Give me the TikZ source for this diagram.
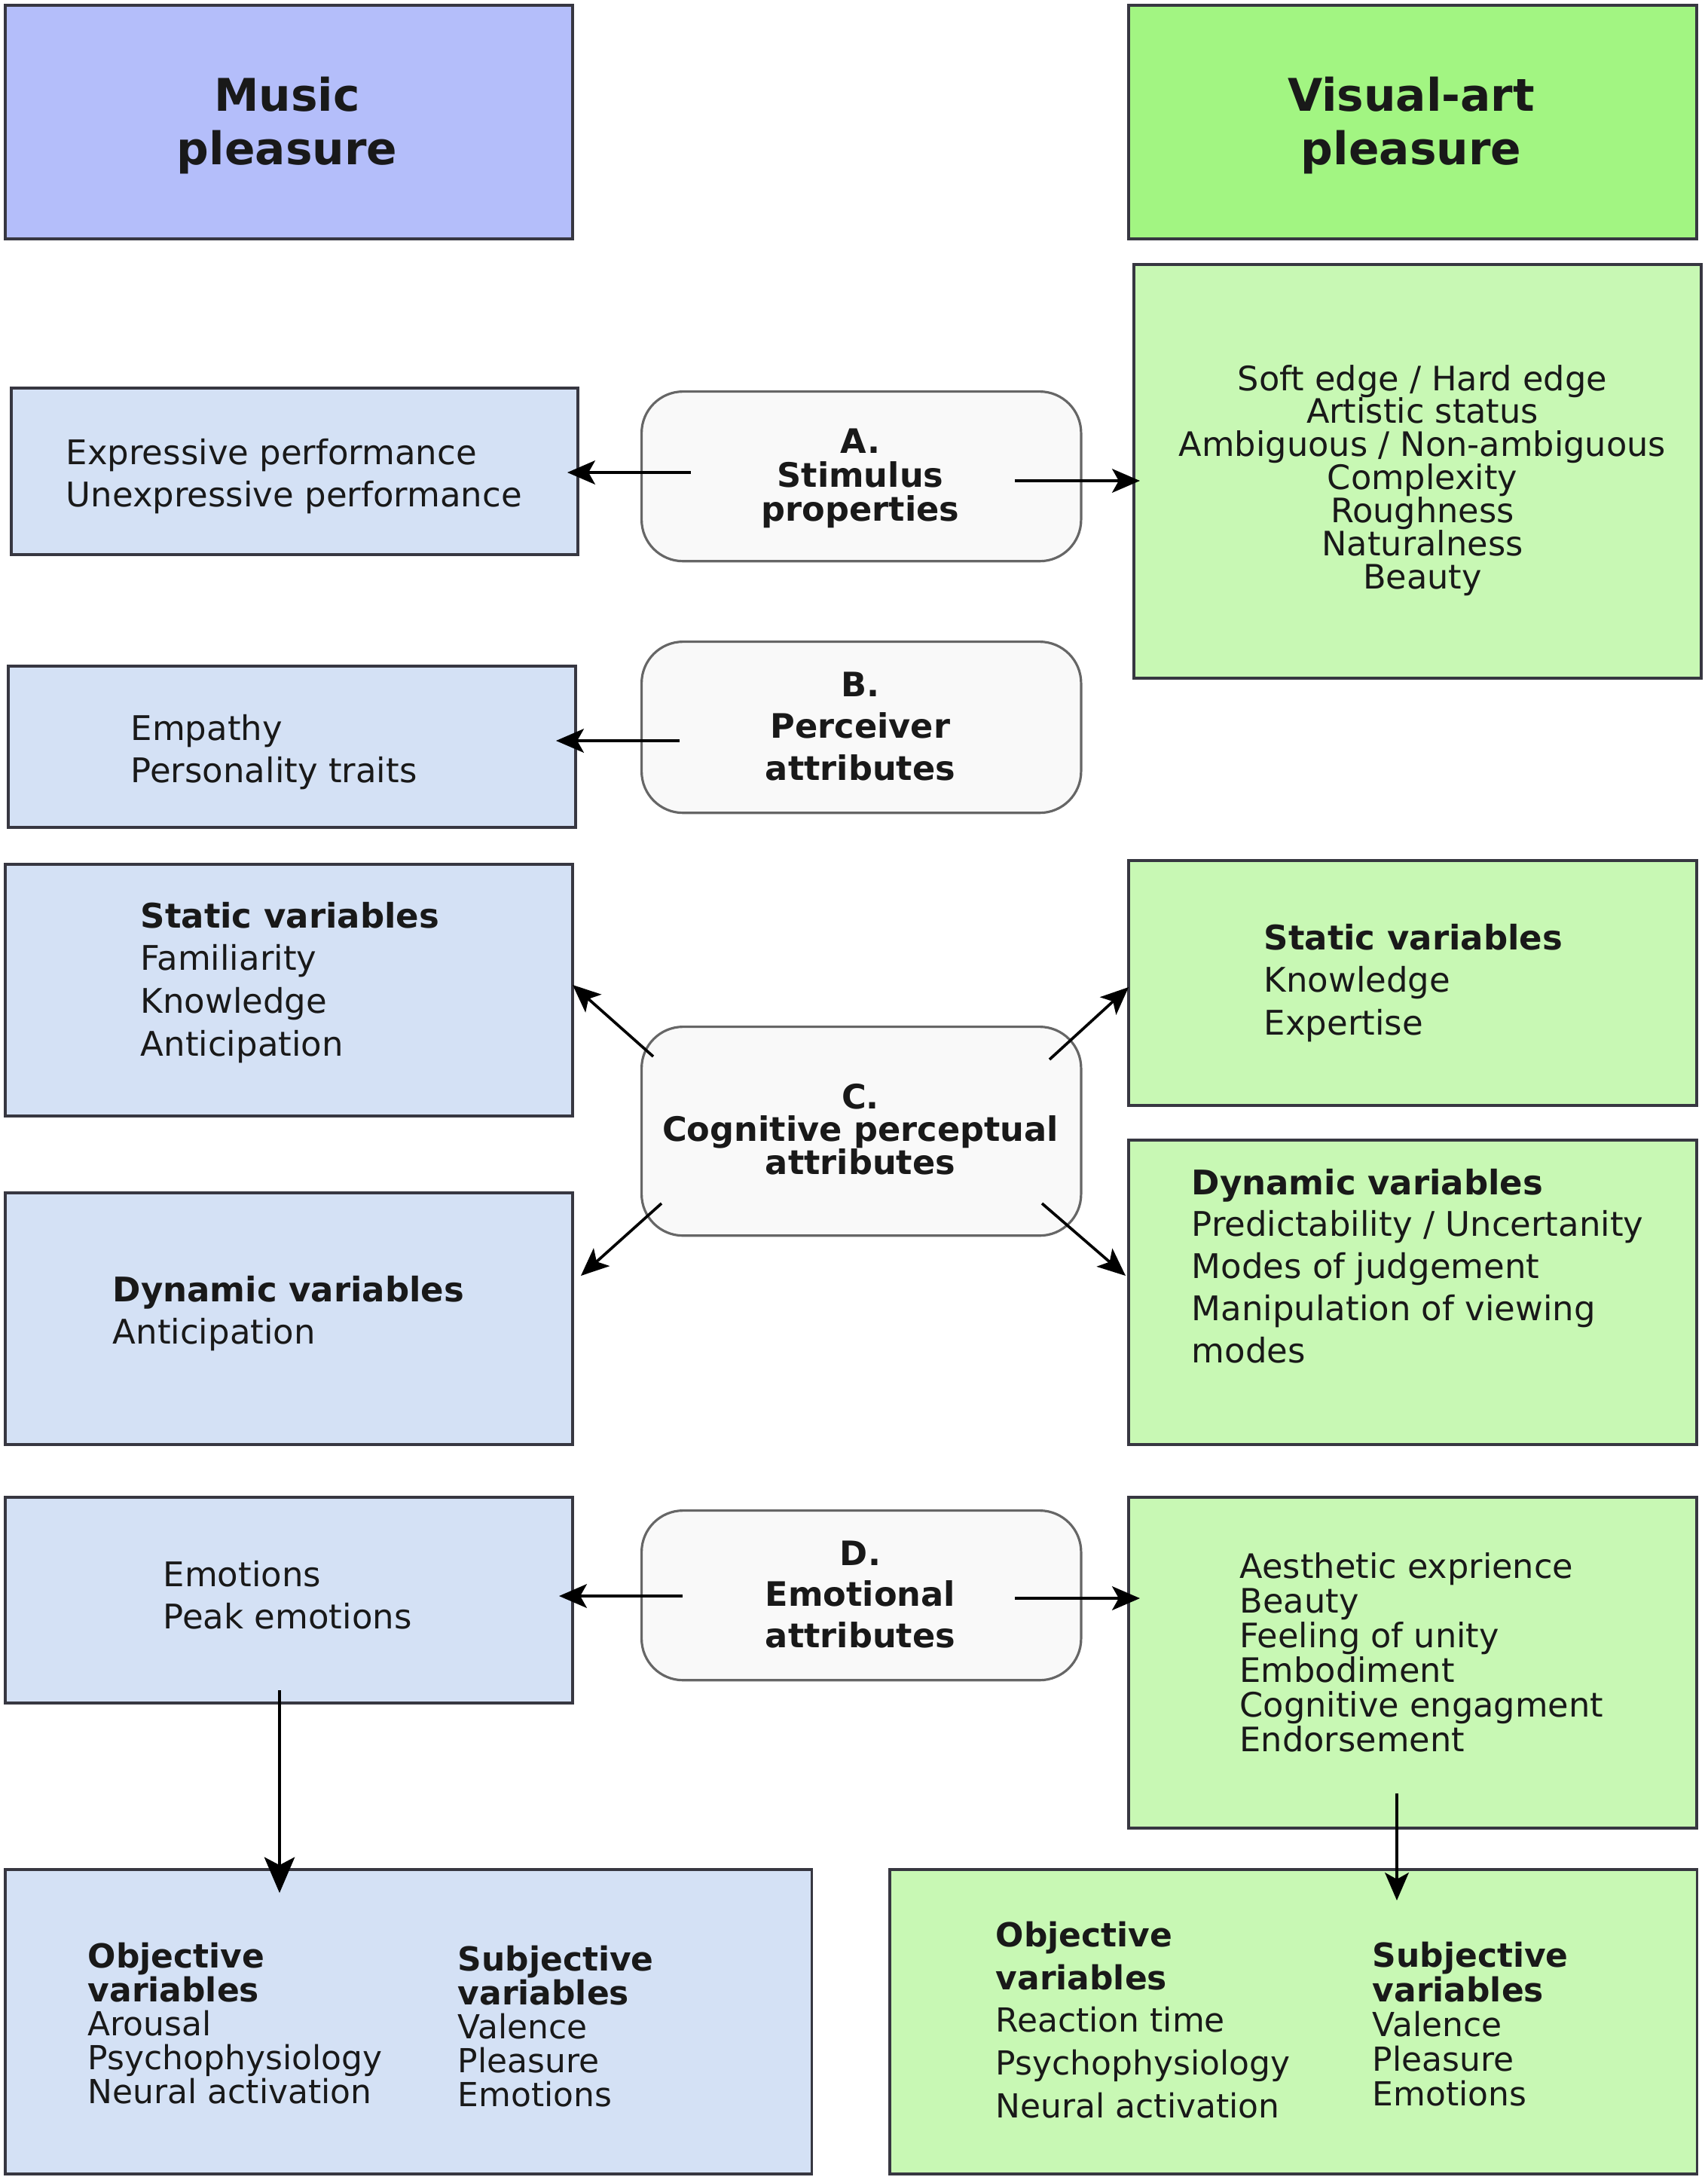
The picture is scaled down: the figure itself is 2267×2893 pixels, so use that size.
\documentclass[tikz,border=0pt]{standalone}
\usepackage{fontspec}
\setmainfont{DejaVu Sans}
\usetikzlibrary{arrows.meta}
\definecolor{titleblue}{RGB}{180,190,250}
\definecolor{boxblue}{RGB}{212,225,245}
\definecolor{titlegreen}{RGB}{162,245,130}
\definecolor{boxgreen}{RGB}{200,248,180}
\definecolor{roundfill}{RGB}{249,249,249}
\definecolor{edgecol}{RGB}{55,55,65}
\definecolor{txtcol}{RGB}{25,25,25}
\newcommand{\tbl}[3]{\vtop{\fontsize{#1}{#2}\selectfont\lineskiplimit=-20pt\let\\\cr\halign{##\hfil\cr#3\crcr}}}
\newcommand{\tbc}[3]{\vtop{\fontsize{#1}{#2}\selectfont\lineskiplimit=-20pt\let\\\cr\halign{\hfil##\hfil\cr#3\crcr}}}
\tikzset{
  pbox/.style={draw=edgecol, line width=1pt, anchor=north west, inner sep=0pt},
  rbox/.style={draw=black!60, line width=0.9pt, fill=roundfill, rounded corners=0.55cm, anchor=north west, inner sep=0pt},
  txt/.style={inner sep=0pt, text=txtcol},
  arr/.style={line width=1.05pt, draw=black, -{Stealth[length=10.5pt, width=9pt, inset=2.5pt]}},
  bigarr/.style={line width=1.05pt, draw=black, -{Stealth[length=13.5pt, width=11.5pt, inset=3pt]}}
}
\begin{document}
\begin{tikzpicture}[x=0.01cm, y=-0.01cm]
\useasboundingbox (0,0) rectangle (2267,2893);
% boxes
\node[pbox, fill=titleblue, minimum width=7.53cm, minimum height=3.10cm] (music) at (5,5) {};
\node[pbox, fill=titlegreen, minimum width=7.54cm, minimum height=3.10cm] (visual) at (1496,5) {};
\node[pbox, fill=boxblue, minimum width=7.52cm, minimum height=2.21cm] (expr) at (13,513) {};
\node[rbox, minimum width=5.83cm, minimum height=2.25cm] (A) at (850,518) {};
\node[pbox, fill=boxgreen, minimum width=7.53cm, minimum height=5.49cm] (vis1) at (1503,349) {};
\node[pbox, fill=boxblue, minimum width=7.53cm, minimum height=2.14cm] (emp) at (9,882) {};
\node[rbox, minimum width=5.83cm, minimum height=2.27cm] (B) at (850,850) {};
\node[pbox, fill=boxblue, minimum width=7.53cm, minimum height=3.34cm] (statL) at (5,1145) {};
\node[rbox, minimum width=5.83cm, minimum height=2.77cm] (C) at (850,1361) {};
\node[pbox, fill=boxgreen, minimum width=7.54cm, minimum height=3.25cm] (statR) at (1496,1140) {};
\node[pbox, fill=boxblue, minimum width=7.53cm, minimum height=3.34cm] (dynL) at (5,1581) {};
\node[pbox, fill=boxgreen, minimum width=7.54cm, minimum height=4.04cm] (dynR) at (1496,1511) {};
\node[pbox, fill=boxblue, minimum width=7.53cm, minimum height=2.73cm] (emoL) at (5,1985) {};
\node[rbox, minimum width=5.83cm, minimum height=2.25cm] (D) at (850,2003) {};
\node[pbox, fill=boxgreen, minimum width=7.54cm, minimum height=4.39cm] (aesR) at (1496,1985) {};
\node[pbox, fill=boxblue, minimum width=10.70cm, minimum height=4.04cm] (botL) at (5,2479) {};
\node[pbox, fill=boxgreen, minimum width=10.71cm, minimum height=4.04cm] (botR) at (1179,2479) {};
% texts
\node[txt, anchor=base] (tmusic) at (381,147) {\tbc{17}{20.2}{\textbf{Music}\\\textbf{pleasure}}};
\node[txt, anchor=base] (tvisual) at (1873,147) {\tbc{17}{20.2}{\textbf{Visual-art}\\\textbf{pleasure}}};
\node[txt, anchor=base west] (texpr) at (87,616) {\tbl{12.8}{16.2}{Expressive performance\\Unexpressive performance}};
\node[txt, anchor=base] (tA) at (1142,601) {\tbc{12.7}{12.8}{\textbf{A.}\\\textbf{Stimulus}\\\textbf{properties}}};
\node[txt, anchor=base] (tvis1) at (1888,518) {\tbc{12.7}{12.5}{Soft edge / Hard edge\\Artistic status\\Ambiguous / Non-ambiguous\\Complexity\\Roughness\\Naturalness\\Beauty}};
\node[txt, anchor=base west] (temp) at (173,982) {\tbl{12.8}{16.2}{Empathy\\Personality traits}};
\node[txt, anchor=base] (tB) at (1142,924) {\tbc{12.7}{15.9}{\textbf{B.}\\\textbf{Perceiver}\\\textbf{attributes}}};
\node[txt, anchor=base west] (tstatL) at (186,1231) {\tbl{12.8}{16.2}{\textbf{Static variables}\\Familiarity\\Knowledge\\Anticipation}};
\node[txt, anchor=base west] (tstatR) at (1677,1260) {\tbl{12.8}{16.2}{\textbf{Static variables}\\Knowledge\\Expertise}};
\node[txt, anchor=base] (tC) at (1142,1471) {\tbc{12.7}{12.5}{\textbf{C.}\\\textbf{Cognitive perceptual}\\\textbf{attributes}}};
\node[txt, anchor=base west] (tdynL) at (149,1727) {\tbl{12.8}{16.2}{\textbf{Dynamic variables}\\Anticipation}};
\node[txt, anchor=base west] (tdynR) at (1581,1585) {\tbl{12.8}{15.9}{\textbf{Dynamic variables}\\Predictability / Uncertanity\\Modes of judgement\\Manipulation of viewing\\modes}};
\node[txt, anchor=base west] (temoL) at (216,2105) {\tbl{12.8}{16.2}{Emotions\\Peak emotions}};
\node[txt, anchor=base] (tD) at (1142,2077) {\tbc{12.7}{15.6}{\textbf{D.}\\\textbf{Emotional}\\\textbf{attributes}}};
\node[txt, anchor=base west] (taes) at (1645,2094) {\tbl{12.7}{13.1}{Aesthetic exprience\\Beauty\\Feeling of unity\\Embodiment\\Cognitive engagment\\Endorsement}};
\node[txt, anchor=base west] (tbotLo) at (116,2611) {\tbl{12.5}{12.8}{\textbf{Objective}\\\textbf{variables}\\Arousal\\Psychophysiology\\Neural activation}};
\node[txt, anchor=base west] (tbotLs) at (607,2615) {\tbl{12.5}{12.8}{\textbf{Subjective}\\\textbf{variables}\\Valence\\Pleasure\\Emotions}};
\node[txt, anchor=base west] (tbotRo) at (1321,2583) {\tbl{12.5}{16.2}{\textbf{Objective}\\\textbf{variables}\\Reaction time\\Psychophysiology\\Neural activation}};
\node[txt, anchor=base west] (tbotRs) at (1821,2610) {\tbl{12.5}{13.1}{\textbf{Subjective}\\\textbf{variables}\\Valence\\Pleasure\\Emotions}};
% connector ends
\coordinate (a1s) at (917,627);  \coordinate (a1e) at (753,627);
\coordinate (a2s) at (1347,638); \coordinate (a2e) at (1513,638);
\coordinate (b1s) at (902,983);  \coordinate (b1e) at (738,983);
\coordinate (c1s) at (867,1402); \coordinate (c1e) at (760,1307);
\coordinate (c2s) at (1393,1406);\coordinate (c2e) at (1498,1310);
\coordinate (c3s) at (878,1597); \coordinate (c3e) at (771,1693);
\coordinate (c4s) at (1383,1597);\coordinate (c4e) at (1494,1693);
\coordinate (d1s) at (906,2118); \coordinate (d1e) at (742,2118);
\coordinate (d2s) at (1347,2121);\coordinate (d2e) at (1513,2121);
\coordinate (e1s) at (371,2243); \coordinate (e1e) at (371,2512);
\coordinate (e2s) at (1854,2380);\coordinate (e2e) at (1854,2522);
\draw[arr] (a1s) -- (a1e);
\draw[arr] (a2s) -- (a2e);
\draw[arr] (b1s) -- (b1e);
\draw[arr] (c1s) -- (c1e);
\draw[arr] (c2s) -- (c2e);
\draw[arr] (c3s) -- (c3e);
\draw[arr] (c4s) -- (c4e);
\draw[arr] (d1s) -- (d1e);
\draw[arr] (d2s) -- (d2e);
\draw[bigarr] (e1s) -- (e1e);
\draw[arr] (e2s) -- (e2e);
\end{tikzpicture}
\end{document}
